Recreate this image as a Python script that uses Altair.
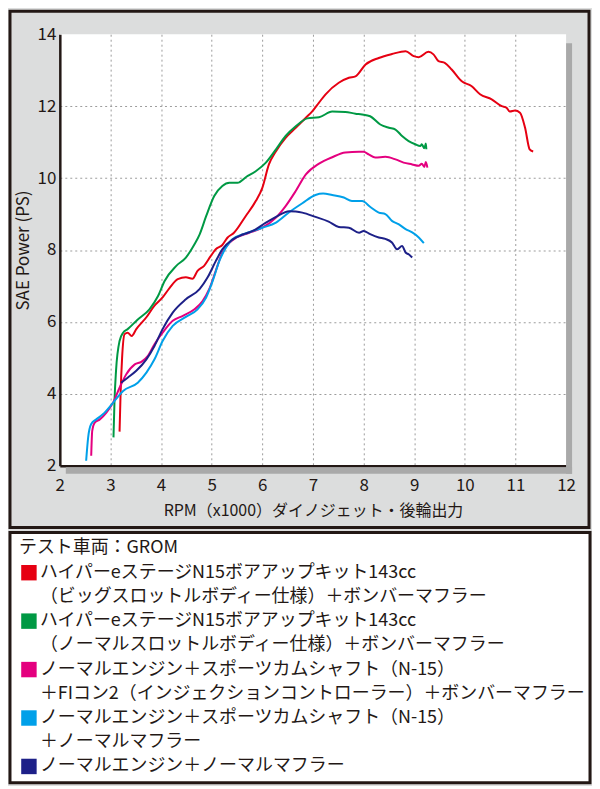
import altair as alt
import pandas as pd

# ---------------- data ----------------
series_names = [
    "ハイパーeステージN15（ビッグスロットル）",
    "ハイパーeステージN15（ノーマルスロットル）",
    "ノーマル＋カム＋FIコン2＋ボンバー",
    "ノーマル＋カム＋ノーマルマフラー",
    "ノーマル＋ノーマルマフラー",
]
series_colors = ["#e60012", "#009944", "#e4007f", "#00a0e9", "#1d2088"]

red_rpm = [3.18, 3.20, 3.23, 3.28, 3.34, 3.42, 3.51, 3.71, 3.87, 4.03, 4.17, 4.33, 4.49, 4.62, 4.72,
           4.85, 4.98, 5.08, 5.21, 5.31, 5.44, 5.67, 5.87, 6.00, 6.13, 6.27, 6.46, 6.66, 6.86, 6.99,
           7.12, 7.25, 7.51, 7.71, 7.84, 8.04, 8.30, 8.56, 8.83, 8.99, 9.09, 9.28, 9.38, 9.48, 9.61,
           9.74, 9.94, 10.13, 10.30, 10.53, 10.73, 10.82, 10.89, 10.99, 11.09, 11.19, 11.28, 11.35]
red_ps = [2.95, 4.00, 5.00, 5.66, 5.70, 5.61, 5.80, 6.13, 6.45, 6.68, 6.95, 7.19, 7.24, 7.20, 7.42,
          7.56, 7.83, 8.02, 8.14, 8.34, 8.48, 8.94, 9.36, 9.73, 10.38, 10.75, 11.12, 11.40, 11.68, 11.86,
          12.10, 12.33, 12.65, 12.79, 12.83, 13.16, 13.34, 13.45, 13.53, 13.39, 13.36, 13.51, 13.44, 13.25, 13.20,
          13.02, 12.69, 12.56, 12.33, 12.19, 12.00, 11.96, 11.85, 11.88, 11.82, 11.40, 10.80, 10.74]

green_rpm = [3.06, 3.08, 3.11, 3.18, 3.25, 3.34, 3.54, 3.77, 3.94, 4.07, 4.30, 4.49, 4.66, 4.76, 4.89,
             5.05, 5.21, 5.35, 5.51, 5.68, 5.87, 6.07, 6.27, 6.46, 6.66, 6.89, 7.12, 7.38, 7.64, 7.84,
             7.97, 8.13, 8.33, 8.50, 8.63, 8.76, 8.89, 9.02, 9.12, 9.15, 9.20, 9.23, 9.24]
green_ps = [2.79, 3.80, 4.64, 5.47, 5.70, 5.80, 6.07, 6.35, 6.72, 7.14, 7.56, 7.79, 8.16, 8.43, 8.94,
            9.50, 9.78, 9.87, 9.87, 10.03, 10.19, 10.43, 10.80, 11.17, 11.44, 11.66, 11.69, 11.85, 11.84, 11.79,
            11.77, 11.72, 11.49, 11.40, 11.35, 11.17, 11.03, 10.94, 10.89, 10.94, 10.83, 10.96, 10.80]

pink_rpm = [2.62, 2.64, 2.69, 2.79, 2.92, 3.05, 3.18, 3.31, 3.48, 3.61, 3.74, 3.87, 4.03, 4.23, 4.43,
            4.66, 4.82, 4.95, 5.08, 5.21, 5.35, 5.48, 5.74, 6.00, 6.27, 6.46, 6.66, 6.86, 7.12, 7.38,
            7.64, 7.91, 8.00, 8.10, 8.23, 8.43, 8.63, 8.79, 8.96, 9.09, 9.15, 9.20, 9.23, 9.26]
pink_ps = [2.28, 2.97, 3.20, 3.29, 3.48, 3.75, 4.17, 4.54, 4.82, 4.89, 5.06, 5.38, 5.70, 6.03, 6.17,
           6.35, 6.58, 6.91, 7.42, 7.93, 8.20, 8.34, 8.48, 8.62, 8.90, 9.22, 9.64, 10.10, 10.40, 10.58,
           10.71, 10.73, 10.73, 10.66, 10.57, 10.59, 10.52, 10.43, 10.38, 10.34, 10.40, 10.31, 10.45, 10.29]

blue_rpm = [2.52, 2.56, 2.62, 2.72, 2.85, 3.05, 3.25, 3.54, 3.71, 3.87, 4.03, 4.23, 4.49, 4.72, 4.89,
            5.02, 5.15, 5.28, 5.41, 5.67, 6.00, 6.27, 6.53, 6.79, 7.05, 7.20, 7.38, 7.61, 7.77, 7.97,
            8.14, 8.30, 8.43, 8.56, 8.69, 8.83, 8.96, 9.09, 9.19]
blue_ps = [2.14, 2.79, 3.16, 3.29, 3.43, 3.75, 4.08, 4.31, 4.59, 4.96, 5.47, 5.89, 6.14, 6.35, 6.68,
           7.14, 7.69, 8.06, 8.30, 8.46, 8.62, 8.76, 9.05, 9.30, 9.53, 9.57, 9.53, 9.46, 9.36, 9.36,
           9.19, 9.04, 9.00, 8.81, 8.72, 8.58, 8.49, 8.35, 8.19]

navy_rpm = [3.21, 3.34, 3.51, 3.71, 3.87, 4.03, 4.23, 4.49, 4.76, 4.92, 5.08, 5.21, 5.41, 5.61, 5.81,
            6.07, 6.27, 6.53, 6.66, 6.79, 7.05, 7.31, 7.51, 7.71, 7.91, 8.00, 8.13, 8.30, 8.43, 8.56,
            8.66, 8.76, 8.83, 8.89, 8.96]
navy_ps = [4.31, 4.45, 4.64, 4.96, 5.33, 5.80, 6.26, 6.63, 6.91, 7.24, 7.69, 8.02, 8.29, 8.43, 8.53,
           8.76, 8.92, 9.08, 9.07, 9.04, 8.92, 8.79, 8.64, 8.62, 8.48, 8.53, 8.44, 8.35, 8.31, 8.21,
           8.02, 8.11, 7.93, 7.88, 7.79]

x_ticks = [2, 3, 4, 5, 6, 7, 8, 9, 10, 11, 12]
y_ticks = [2, 4, 6, 8, 10, 12, 14]

legend_lines = [
    "テスト車両：GROM",
    "ハイパーeステージN15ボアアップキット143cc",
    "（ビッグスロットルボディー仕様）＋ボンバーマフラー",
    "ハイパーeステージN15ボアアップキット143cc",
    "（ノーマルスロットルボディー仕様）＋ボンバーマフラー",
    "ノーマルエンジン＋スポーツカムシャフト（N-15）",
    "＋FIコン2（インジェクションコントローラー）＋ボンバーマフラー",
    "ノーマルエンジン＋スポーツカムシャフト（N-15）",
    "＋ノーマルマフラー",
    "ノーマルエンジン＋ノーマルマフラー",
]
legend_series_rows = [1, 3, 5, 7, 9]

# ---------------- tables ----------------
rows = []
for name, xs, ys in zip(series_names,
                        [red_rpm, green_rpm, pink_rpm, blue_rpm, navy_rpm],
                        [red_ps, green_ps, pink_ps, blue_ps, navy_ps]):
    for i, (x, y) in enumerate(zip(xs, ys)):
        rows.append({"series": name, "rpm": x, "ps": y, "i": i})
df = pd.DataFrame(rows)

leg_df = pd.DataFrame({
    "row": list(range(len(legend_lines))),
    "text": legend_lines,
    "kind": ["title"] + ["item"] * (len(legend_lines) - 1),
})
sq_df = pd.DataFrame({"row": legend_series_rows, "series": series_names})
one = pd.DataFrame({"a": [0]})

# ---------------- style ----------------
W, H = 508, 433
FONT = "Noto Sans CJK JP"
INK = "#231815"
PANEL = "#dcdddd"
SHADOW = "#a9a9a9"

color_scale = alt.Scale(domain=series_names, range=series_colors)

x_axis = alt.Axis(
    values=x_ticks, title="RPM（x1000）ダイノジェット・後輪出力",
    ticks=False, domainColor=INK, domainWidth=2.5,
    gridColor="#9c9c9c", gridDash=[2, 3], gridWidth=1,
    gridOpacity={"condition": {"test": "datum.value == 2 || datum.value == 12", "value": 0}, "value": 1},
    labelFontSize=17, labelColor=INK, labelPadding=12, labelFlush=False,
    titleFontSize=16, titleColor=INK, titleFontWeight="normal", titlePadding=9,
)
y_axis = alt.Axis(
    values=y_ticks, title="SAE Power (PS)",
    ticks=False, domainColor=INK, domainWidth=2.5,
    gridColor="#9c9c9c", gridDash=[2, 3], gridWidth=1,
    gridOpacity={"condition": {"test": "datum.value == 2 || datum.value == 14", "value": 0}, "value": 1},
    labelFontSize=17, labelColor=INK, labelPadding=4, labelFlush=False,
    titleFontSize=17, titleColor=INK, titleFontWeight="normal", titlePadding=5,
)

frame = alt.Chart(one).mark_rect(fillOpacity=0, stroke=INK, strokeWidth=3).encode(
    x=alt.value(-50), x2=alt.value(531), y=alt.value(-23), y2=alt.value(495))
shadow_r = alt.Chart(one).mark_rect(fill=SHADOW).encode(
    x=alt.value(W), x2=alt.value(W + 6), y=alt.value(9), y2=alt.value(H + 8))
shadow_b = alt.Chart(one).mark_rect(fill=SHADOW).encode(
    x=alt.value(6), x2=alt.value(W + 6), y=alt.value(H + 1.5), y2=alt.value(H + 8))

lines = alt.Chart(df).mark_line(strokeWidth=2, interpolate="monotone").encode(
    x=alt.X("rpm:Q", scale=alt.Scale(domain=[2, 12], nice=False, zero=False), axis=x_axis),
    y=alt.Y("ps:Q", scale=alt.Scale(domain=[2, 14], nice=False, zero=False), axis=y_axis),
    color=alt.Color("series:N", scale=color_scale, legend=None),
    order="i:Q",
)

top = alt.layer(frame, shadow_r, shadow_b, lines).properties(width=W, height=H)

# ---------------- legend panel ----------------
LH = 251
row_scale = alt.Scale(domain=[-0.658, 9.67], reverse=True, nice=False, zero=False)

leg_box = alt.Chart(one).mark_rect(fill="white", stroke=INK, strokeWidth=3).encode(
    x=alt.value(-50), x2=alt.value(532), y=alt.value(0), y2=alt.value(LH))
leg_title = alt.Chart(leg_df).transform_filter("datum.kind == 'title'").mark_text(
    align="left", baseline="middle", fontSize=18, color=INK, font=FONT).encode(
    x=alt.value(-41), y=alt.Y("row:Q", scale=row_scale, axis=None), text="text:N")
leg_text = alt.Chart(leg_df).transform_filter("datum.kind == 'item'").mark_text(
    align="left", baseline="middle", fontSize=18, color=INK, font=FONT).encode(
    x=alt.value(-20), y=alt.Y("row:Q", scale=row_scale, axis=None), text="text:N")
leg_sq = alt.Chart(sq_df).mark_square(size=240, opacity=1, filled=True).encode(
    x=alt.value(-31), y=alt.Y("row:Q", scale=row_scale, axis=None),
    color=alt.Color("series:N", scale=color_scale, legend=None))

legend = alt.layer(leg_box, leg_sq, leg_title, leg_text).properties(width=W, height=LH)

chart = alt.vconcat(top, legend, spacing=1).properties(
    background=PANEL, padding=0
).configure(font=FONT).configure_view(stroke=None, fill="white")

chart.save("out.html", embed_options={"renderer": "svg", "actions": False})
